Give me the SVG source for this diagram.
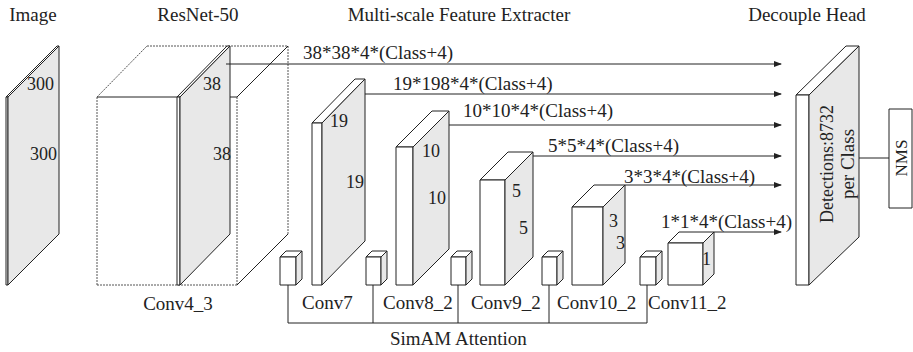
<svg xmlns="http://www.w3.org/2000/svg" width="913" height="352" viewBox="0 0 913 352" font-family="'Liberation Serif', 'Times New Roman', Tinos, 'DejaVu Serif', serif">
<defs>
<style>
text{font-family:'Liberation Serif','Times New Roman',Tinos,'DejaVu Serif',serif;fill:#222;}
.h{font-size:19px;text-anchor:middle;}
.t{font-size:19px;}
.n{font-size:18px;}
.w{fill:#fff;stroke:#222;stroke-width:1;stroke-linejoin:round;}
.g{fill:#e8e8e8;stroke:#222;stroke-width:1;stroke-linejoin:round;}
.d{fill:none;stroke:#555;stroke-width:1;stroke-dasharray:2 1;}
.s{fill:none;stroke:#222;stroke-width:1;}
.c{fill:none;stroke:#222;stroke-width:1;}
</style>
<marker id="ah" markerWidth="8" markerHeight="6" refX="7" refY="3" orient="auto" markerUnits="userSpaceOnUse">
<path d="M0,0 L8,3 L0,6 Z" fill="#222"/>
</marker>
</defs>
<rect width="913" height="352" fill="#fff"/>

<g id="headers">
<text class="h" x="33" y="21">Image</text>
<text class="h" x="198" y="21">ResNet-50</text>
<text class="h" x="459" y="21">Multi-scale Feature Extracter</text>
<text class="h" x="807" y="21">Decouple Head</text>
</g>

<g id="image">
<polygon class="w" points="6,97 57,46 59,46 8,97"/>
<rect class="w" x="6" y="97" width="2" height="188"/>
<polygon class="g" points="8,97 59,46 59,234 8,285"/>
<text class="n" x="27" y="90">300</text>
<text class="n" x="30" y="160">300</text>
</g>

<g id="resnet">
<line class="d" x1="97" y1="97" x2="97" y2="285"/>
<line class="d" x1="97" y1="285" x2="237" y2="285"/>
<line class="d" x1="237" y1="97" x2="237" y2="285"/>
<line class="s" x1="97" y1="97" x2="237" y2="97"/>
<line class="d" x1="97" y1="97" x2="147" y2="46"/>
<line class="d" x1="147" y1="46" x2="288" y2="46"/>
<line class="d" x1="288" y1="46" x2="288" y2="234"/>
<line class="s" x1="237" y1="97" x2="288" y2="46"/>
<line class="s" x1="237" y1="285" x2="288" y2="234" stroke-width="0.8"/>
<polygon class="w" points="177,97 227,46 230,46 180,97"/>
<rect class="w" x="177" y="97" width="3" height="188"/>
<polygon class="g" points="180,97 230,46 230,234 180,285"/>
<text class="n" x="203" y="90">38</text>
<text class="n" x="213" y="160">38</text>
<text class="t" x="178" y="310" text-anchor="middle">Conv4_3</text>
</g>

<g id="conv7">
<polygon class="w" points="312,123 355,79 365,79 322,123"/>
<rect class="w" x="312" y="123" width="10" height="162"/>
<polygon class="g" points="322,123 365,79 365,241 322,285"/>
<text class="n" x="330" y="127">19</text>
<text class="n" x="346" y="188">19</text>
<text class="t" x="302" y="309">Conv7</text>
</g>

<g id="conv8">
<polygon class="w" points="396,147 432,111 449,111 413,147"/>
<rect class="w" x="396" y="147" width="17" height="138"/>
<polygon class="g" points="413,147 449,111 449,249 413,285"/>
<text class="n" x="422" y="157">10</text>
<text class="n" x="428" y="204">10</text>
<text class="t" x="383" y="309">Conv8_2</text>
</g>

<g id="conv9">
<polygon class="w" points="480,180 508,152 533,152 505,180"/>
<rect class="w" x="480" y="180" width="25" height="105"/>
<polygon class="g" points="505,180 533,152 533,257 505,285"/>
<text class="n" x="512" y="197">5</text>
<text class="n" x="519" y="234">5</text>
<text class="t" x="471" y="309">Conv9_2</text>
</g>

<g id="conv10">
<polygon class="w" points="572,207 594,185 625,185 603,207"/>
<rect class="w" x="572" y="207" width="31" height="78"/>
<polygon class="g" points="603,207 625,185 625,263 603,285"/>
<text class="n" x="609" y="227">3</text>
<text class="n" x="616" y="249">3</text>
<text class="t" x="557" y="309">Conv10_2</text>
</g>

<g id="conv11">
<polygon class="w" points="668,243 679,232 714,232 703,243"/>
<rect class="w" x="668" y="243" width="35" height="42"/>
<polygon class="g" points="703,243 714,232 714,274 703,285"/>
<text class="n" x="702" y="265">1</text>
<text class="t" x="648" y="309">Conv11_2</text>
</g>

<g id="attention">
<polygon class="w" points="280,257 286,251 302,251 296,257"/>
<rect class="w" x="280" y="257" width="16" height="28"/>
<polygon class="g" points="296,257 302,251 302,279 296,285"/>
<polygon class="w" points="366,257 372,251 387,251 381,257"/>
<rect class="w" x="366" y="257" width="15" height="28"/>
<polygon class="g" points="381,257 387,251 387,279 381,285"/>
<polygon class="w" points="451,257 457,251 472,251 466,257"/>
<rect class="w" x="451" y="257" width="15" height="28"/>
<polygon class="g" points="466,257 472,251 472,279 466,285"/>
<polygon class="w" points="542,257 548,251 563,251 557,257"/>
<rect class="w" x="542" y="257" width="15" height="28"/>
<polygon class="g" points="557,257 563,251 563,279 557,285"/>
<polygon class="w" points="640,257 646,251 662,251 656,257"/>
<rect class="w" x="640" y="257" width="16" height="28"/>
<polygon class="g" points="656,257 662,251 662,279 656,285"/>
<text class="t" x="390" y="345">SimAM Attention</text>
</g>

<g id="head">
<polygon class="w" points="796,95 846,46 859,46 809,95"/>
<rect class="w" x="796" y="95" width="13" height="190"/>
<polygon class="g" points="809,95 859,46 859,237 809,285"/>
<text class="n" transform="translate(833,164) rotate(-90)" text-anchor="middle">Detections:8732</text>
<text class="t" transform="translate(854,164) rotate(-90)" text-anchor="middle">per Class</text>
</g>

<g id="nms">
<rect class="w" x="889" y="109" width="23" height="99"/>
<text transform="translate(907,158) rotate(-90)" text-anchor="middle" style="font-size:17px">NMS</text>
</g>

<g id="connectors">
<line class="c" x1="226" y1="64" x2="781" y2="64" marker-end="url(#ah)"/>
<line class="c" x1="365" y1="94" x2="781" y2="94" marker-end="url(#ah)"/>
<line class="c" x1="449" y1="125" x2="781" y2="125" marker-end="url(#ah)"/>
<line class="c" x1="533" y1="156" x2="781" y2="156" marker-end="url(#ah)"/>
<line class="c" x1="625" y1="185" x2="781" y2="185" marker-end="url(#ah)"/>
<line class="c" x1="714" y1="232" x2="781" y2="232" marker-end="url(#ah)"/>
<line class="c" x1="859" y1="158" x2="889" y2="158"/>
<polyline class="c" points="288,285 288,323 647,323 647,285"/>
<line class="c" x1="373" y1="285" x2="373" y2="323"/>
<line class="c" x1="458" y1="285" x2="458" y2="323"/>
<line class="c" x1="549" y1="285" x2="549" y2="323"/>
<text class="t" x="303" y="59">38*38*4*(Class+4)</text>
<text class="t" x="393" y="90">19*198*4*(Class+4)</text>
<text class="t" x="463" y="117">10*10*4*(Class+4)</text>
<text class="t" x="548" y="152">5*5*4*(Class+4)</text>
<text class="t" x="624" y="183">3*3*4*(Class+4)</text>
<text class="t" x="661" y="228">1*1*4*(Class+4)</text>
</g>
</svg>
